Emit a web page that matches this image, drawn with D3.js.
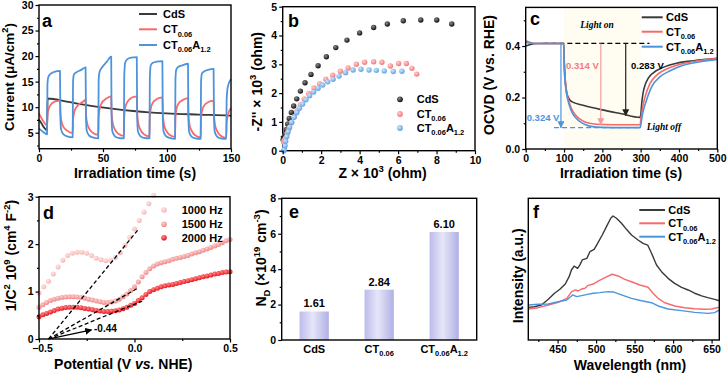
<!DOCTYPE html>
<html>
<head>
<meta charset="utf-8">
<script src="https://cdn.jsdelivr.net/npm/d3@7"></script>
<style>
body{margin:0;background:#fff;}
svg{display:block;font-family:"Liberation Sans",Arial,sans-serif;font-weight:bold;}
</style>
</head>
<body>
<svg id="fig" width="727" height="375"></svg>
<script>
// ---------- data ----------
const seriesNames = ['CdS', 'CT0.06', 'CT0.06A1.2'];
const lineColors = ['#3a3a3a', '#f76a6a', '#4d94dc'];

// a: photocurrent [time s, current uA/cm2]
const cdsA = [[0,7.6],[2,6.8],[4,6.0],[6.3,5.5],[6.7,11.7],[21.6,11.1],[35,10.5],[47.7,10.0],[60,9.6],[73.7,9.25],[86,9.0],[99.7,8.8],[125,8.55],[149,8.33],[150,8.3]];
const ctA = [
  [0,8.8],[2,7.8],[4,7.0],[6.3,6.4],[6.6,8.4],[7.5,9.6],[9,10.4],[11,10.9],[14,11.2],[16.4,11.3],
  [16.7,9.0],[17.5,7.3],[19,6.2],[22,5.4],[26.3,4.9],
  [26.6,7.6],[27.5,9.0],[29,9.9],[31,10.5],[34,11.0],[36.4,11.4],
  [36.7,8.8],[37.5,7.0],[39,5.9],[42,5.0],[46.3,4.6],
  [46.6,8.0],[47.5,9.8],[49,10.8],[51,11.4],[54,11.9],[56.4,12.1],
  [56.7,9.0],[57.5,7.0],[59,5.8],[62,4.8],[66.3,4.4],
  [66.6,8.2],[67.5,10.0],[69,11.0],[71,11.6],[74,12.0],[76.4,12.1],
  [76.7,9.0],[77.5,6.9],[79,5.7],[82,4.7],[86.3,4.3],
  [86.6,8.2],[87.5,9.9],[89,10.9],[91,11.4],[94,11.8],[96.4,11.9],
  [96.7,8.9],[97.5,6.8],[99,5.6],[102,4.6],[106.3,4.2],
  [106.6,8.0],[107.5,9.7],[109,10.7],[111,11.2],[114,11.6],[116.4,11.8],
  [116.7,8.8],[117.5,6.7],[119,5.5],[122,4.5],[126.3,4.1],
  [126.6,7.8],[127.5,9.4],[129,10.3],[131,10.8],[134,11.2],[136.4,11.3],
  [136.7,8.6],[137.5,6.6],[139,5.4],[142,4.4],[146.3,4.0],
  [146.6,7.0],[148,8.8],[150,9.8]
];
const ctaA = [
  [0,5.8],[3,5.2],[6.3,4.7],[6.6,14.5],[7.3,15.9],[9,16.5],[12,16.9],[16.4,17.1],
  [16.7,8],[17.3,5.6],[19,4.7],[22,4.3],[26.3,4.1],
  [26.6,15],[27.3,16.4],[29,16.8],[33,17.3],[36.4,17.8],
  [36.7,8],[37.3,5.4],[39,4.5],[42,4.1],[46.3,3.9],
  [46.6,15.2],[47.3,16.9],[49,17.7],[53,18.9],[56.4,19.9],
  [56.7,8],[57.3,5.3],[59,4.4],[62,4.0],[66.3,3.9],
  [66.6,16],[67.3,18.7],[69,19.4],[72,19.7],[76.4,19.8],
  [76.7,8],[77.3,5.3],[79,4.4],[82,4.0],[86.3,3.9],
  [86.6,15.8],[87.3,18.2],[89,18.7],[92,18.9],[96.4,19.0],
  [96.7,8],[97.3,5.3],[99,4.4],[102,4.0],[106.3,3.8],
  [106.6,15.5],[107.3,17.4],[109,17.9],[112,18.2],[116.4,18.5],
  [116.7,8],[117.3,5.2],[119,4.3],[122,3.9],[126.3,3.8],
  [126.6,15],[127.3,16.6],[129,17.0],[132,17.3],[136.4,17.5],
  [136.7,8],[137.3,5.2],[139,4.3],[142,3.9],[146.3,3.8],
  [146.6,11.5],[147.5,14],[150,15.5]
];

// b: Nyquist [Z' x1e3, -Z'' x1e3]
const cdsB = [[0.02,0.38],[0.06,0.47],[0.1,0.53],[0.14,0.60],[0.19,0.74],[0.26,0.93],[0.34,1.12],[0.45,1.33],[0.57,1.55],[0.73,1.80],[0.92,2.07],[1.16,2.36],[1.47,2.65],[1.84,2.95],[2.27,3.26],[2.76,3.58],[3.34,3.84],[4.00,4.09],[4.73,4.28],[5.44,4.40],[6.27,4.51],[7.18,4.54],[8.01,4.54],[8.79,4.40]];
const ctB = [[0.05,0.30],[0.1,0.37],[0.15,0.43],[0.24,0.60],[0.34,0.78],[0.46,0.97],[0.60,1.18],[0.75,1.39],[0.92,1.60],[1.12,1.80],[1.35,1.99],[1.63,2.18],[1.92,2.33],[2.24,2.48],[2.60,2.62],[3.00,2.76],[3.40,2.87],[3.83,3.00],[4.26,3.07],[4.73,3.09],[5.16,3.07],[5.60,2.94],[6.03,3.03],[6.43,3.03],[6.72,2.86],[6.97,2.66]];
const ctaB = [[0.06,0.0],[0.085,0.05],[0.12,0.17],[0.154,0.33],[0.21,0.49],[0.28,0.66],[0.36,0.82],[0.47,0.99],[0.59,1.16],[0.73,1.32],[0.87,1.47],[1.04,1.62],[1.21,1.77],[1.40,1.91],[1.61,2.04],[1.84,2.17],[2.08,2.28],[2.34,2.39],[2.62,2.48],[2.93,2.59],[3.27,2.71],[3.66,2.80],[4.07,2.83],[4.49,2.80],[4.87,2.79],[5.28,2.77],[5.75,2.75],[6.20,2.76]];

// c: OCVD [time s, V vs RHE]
const cdsC = [[0,0.400],[10,0.405],[30,0.41],[60,0.41],[99,0.41],[100,0.36],[101,0.33],[103,0.27],[107,0.22],[113,0.195],[120,0.184],[150,0.17],[200,0.152],[250,0.137],[298,0.123],[300,0.13],[303,0.18],[306,0.215],[309,0.236],[320,0.275],[333,0.296],[359,0.317],[394,0.333],[438,0.343],[500,0.352]];
const ctC = [[0,0.42],[10,0.415],[30,0.41],[60,0.41],[99,0.41],[100,0.36],[101,0.31],[103,0.27],[106,0.23],[110,0.2],[115,0.175],[120,0.155],[130,0.132],[140,0.118],[155,0.105],[170,0.099],[200,0.095],[250,0.094],[299,0.094],[300,0.11],[303,0.14],[307,0.175],[311.5,0.203],[324.5,0.255],[342,0.287],[368,0.311],[403,0.329],[446,0.342],[500,0.351]];
const ctaC = [[0,0.415],[10,0.412],[30,0.41],[60,0.41],[99,0.41],[100,0.35],[101,0.3],[103,0.26],[106,0.22],[110,0.19],[115,0.165],[120,0.145],[130,0.122],[140,0.108],[155,0.095],[170,0.088],[200,0.084],[250,0.083],[299,0.083],[300,0.09],[303,0.12],[308,0.155],[314,0.184],[329,0.242],[351,0.281],[377,0.304],[411,0.325],[455,0.339],[500,0.348]];
const ocvdDrops = [
  {t: 92, to: 0.083, label: '0.324 V'},
  {t: 196, to: 0.095, label: '0.314 V'},
  {t: 261, to: 0.13, label: '0.283 V'}
];

// d: Mott-Schottky
const freqs = ['1000 Hz', '1500 Hz', '2000 Hz'];
const pot1000 = [-0.5,-0.475,-0.45,-0.425,-0.4,-0.375,-0.35,-0.325,-0.3,-0.275,-0.25,-0.225,-0.2,-0.175,-0.15,-0.125,-0.1,-0.075,-0.05,-0.025,0,0.025,0.05,0.075,0.1];
const ms1000 = [0.97,1.10,1.22,1.37,1.52,1.66,1.76,1.81,1.83,1.83,1.81,1.76,1.70,1.67,1.65,1.66,1.72,1.82,1.97,2.14,2.32,2.50,2.67,2.85,3.03];
const pot1500 = d3.range(-0.5, 0.5001, 0.02);
const ms1500 = [0.67,0.72,0.77,0.81,0.84,0.86,0.875,0.885,0.89,0.89,0.885,0.875,0.86,0.84,0.82,0.80,0.785,0.77,0.77,0.78,0.80,0.84,0.89,0.95,1.02,1.10,1.20,1.31,1.40,1.48,1.54,1.58,1.61,1.63,1.65,1.68,1.70,1.72,1.74,1.76,1.79,1.82,1.84,1.87,1.90,1.93,1.96,1.99,2.03,2.07,2.10];
const pot2000 = d3.range(-0.5, 0.5001, 0.02);
const ms2000 = [0.47,0.51,0.54,0.57,0.60,0.63,0.65,0.665,0.67,0.67,0.67,0.66,0.645,0.63,0.615,0.60,0.59,0.58,0.58,0.585,0.595,0.61,0.64,0.67,0.71,0.75,0.81,0.87,0.94,1.00,1.04,1.07,1.10,1.12,1.14,1.15,1.17,1.19,1.21,1.23,1.25,1.27,1.29,1.31,1.33,1.35,1.37,1.38,1.40,1.41,1.42];
const fitLines = [[[-0.45,0],[0.024,2.33]],[[-0.45,0],[0.012,1.06]],[[-0.45,0],[0.04,0.80]]];
const flatBand = -0.44;

// e: donor density
const ndValues = [1.61, 2.84, 6.10];

// f: PL [wavelength nm, intensity a.u.]
const cdsF = [[412,0.23],[420,0.235],[429,0.247],[438,0.287],[446,0.33],[453,0.358],[460,0.395],[465,0.447],[468,0.494],[471.5,0.522],[476,0.506],[479,0.53],[482,0.565],[488,0.576],[492,0.623],[497.5,0.64],[502,0.682],[508,0.741],[513.5,0.8],[519,0.859],[522,0.875],[526.5,0.859],[533,0.824],[539.5,0.781],[546,0.741],[554.5,0.706],[561,0.682],[567,0.67],[572,0.612],[578.5,0.529],[585,0.482],[593.5,0.435],[602,0.4],[611,0.372],[619.5,0.353],[628,0.33],[637,0.311],[645,0.299],[654,0.287],[660,0.277]];
const ctF = [[412,0.219],[425,0.228],[438,0.247],[451,0.266],[462,0.294],[468.3,0.341],[473.4,0.353],[476.8,0.346],[481.2,0.36],[485.5,0.365],[489.8,0.386],[496.3,0.395],[502.7,0.416],[511.4,0.44],[520.9,0.464],[528.7,0.452],[537.3,0.428],[546,0.411],[557,0.388],[567.5,0.372],[574,0.33],[580.5,0.294],[589.2,0.263],[602.2,0.24],[615.1,0.228],[628.1,0.221],[641,0.217],[649.7,0.219],[660,0.231]];
const ctaF = [[412,0.247],[425,0.252],[438,0.254],[451,0.27],[461.8,0.282],[469.6,0.318],[474.8,0.306],[481.2,0.313],[488.9,0.322],[496.3,0.33],[505,0.334],[515.7,0.341],[522.2,0.339],[533,0.318],[546,0.294],[559,0.277],[572,0.263],[580.5,0.24],[593.5,0.219],[610.8,0.207],[628,0.195],[645.3,0.188],[654,0.193],[660,0.212]];

// ---------- helpers ----------
const svg = d3.select('#fig');
const defs = svg.append('defs');
const fam = '"Liberation Sans", Arial, sans-serif';

function rich(sel, parts, size){
  let shift = 0;
  parts.forEach(p => {
    const kind = p[1];
    const target = kind === 'sub' ? size*0.3 : kind === 'sup' ? -size*0.42 : 0;
    const t = sel.append('tspan').text(p[0]);
    if(target - shift !== 0) t.attr('dy', target - shift);
    if(kind === 'sub' || kind === 'sup') t.attr('font-size', size*0.68);
    if(kind === 'it') t.attr('font-style', 'italic');
    shift = target;
  });
  return sel;
}
const ctLabel = [['CT'],['0.06','sub']];
const ctaLabel = [['CT'],['0.06','sub'],['A'],['1.2','sub']];
const legendParts = [[['CdS']], ctLabel, ctaLabel];

function panel(box, xdom, ydom){
  return {
    box,
    x: d3.scaleLinear().domain(xdom).range([box.x0, box.x1]),
    y: d3.scaleLinear().domain(ydom).range([box.y1, box.y0])
  };
}

function styleAxis(g){
  g.attr('font-size', 10.5).attr('font-family', fam).attr('font-weight', 'bold');
  g.select('.domain').remove();
  g.selectAll('line').attr('stroke', '#000').attr('stroke-width', 1.2);
  g.selectAll('text').attr('fill', '#000');
}

function axes(p, cfg){
  const b = p.box;
  if(cfg.xt){
    svg.append('g').attr('transform', `translate(0,${b.y1})`)
      .call(d3.axisBottom(p.x).tickValues(cfg.xt).tickSize(3.5).tickPadding(2).tickFormat(cfg.xf || (d => d)))
      .call(styleAxis)
      .selectAll('text').attr('dx', d => d < 0 ? 3 : 0);
  }
  if(cfg.xm){
    svg.append('g').attr('transform', `translate(0,${b.y1})`)
      .call(d3.axisBottom(p.x).tickValues(cfg.xm).tickSize(2).tickFormat(''))
      .call(styleAxis);
  }
  if(cfg.yt){
    svg.append('g').attr('transform', `translate(${b.x0},0)`)
      .call(d3.axisLeft(p.y).tickValues(cfg.yt).tickSize(3.5).tickPadding(2).tickFormat(cfg.yf || (d => d)))
      .call(styleAxis);
  }
  if(cfg.ym){
    svg.append('g').attr('transform', `translate(${b.x0},0)`)
      .call(d3.axisLeft(p.y).tickValues(cfg.ym).tickSize(2).tickFormat(''))
      .call(styleAxis);
  }
}

function frame(b){
  svg.append('rect').attr('x', b.x0).attr('y', b.y0)
    .attr('width', b.x1 - b.x0).attr('height', b.y1 - b.y0)
    .attr('fill', 'none').attr('stroke', '#000').attr('stroke-width', 1.4);
}

function titles(cfg){
  const fs = cfg.fs || 14;
  if(cfg.x){
    rich(svg.append('text').attr('x', cfg.x[0]).attr('y', cfg.x[1]).attr('text-anchor', 'middle').attr('font-size', 14), cfg.x[2], 14);
  }
  if(cfg.y){
    rich(svg.append('text').attr('transform', `translate(${cfg.y[0]},${cfg.y[1]}) rotate(-90)`).attr('text-anchor', 'middle').attr('font-size', fs), cfg.y[2], fs);
  }
  svg.append('text').attr('x', cfg.tag[0]).attr('y', cfg.tag[1]).attr('font-size', 18).text(cfg.tag[2]);
}

function lineLegend(x0, x1, ys, colors, tx){
  ys.forEach((yy, i) => {
    svg.append('line').attr('x1', x0).attr('x2', x1).attr('y1', yy).attr('y2', yy)
      .attr('stroke', colors[i]).attr('stroke-width', 2);
    rich(svg.append('text').attr('x', tx).attr('y', yy + 4).attr('font-size', 11), legendParts[i], 11);
  });
}

function ballGradient(id, base, hi){
  const g = defs.append('radialGradient').attr('id', id).attr('cx', '38%').attr('cy', '35%').attr('r', '65%');
  g.append('stop').attr('offset', '0%').attr('stop-color', hi);
  g.append('stop').attr('offset', '100%').attr('stop-color', base);
}

function arrowMarker(id, color){
  defs.append('marker').attr('id', id).attr('viewBox', '0 0 10 10').attr('refX', 9).attr('refY', 5)
    .attr('markerWidth', 7).attr('markerHeight', 7).attr('markerUnits', 'userSpaceOnUse').attr('orient', 'auto')
    .append('path').attr('d', 'M0,0 L10,5 L0,10 z').attr('fill', color);
}

// ---------- panel a ----------
{
  const p = panel({x0: 39, x1: 231, y0: 5, y1: 148.7}, [0, 150], [1.87, 30]);
  const line = d3.line().x(d => p.x(d[0])).y(d => p.y(d[1])).curve(d3.curveMonotoneX);
  [cdsA, ctA, ctaA].forEach((s, i) => {
    svg.append('path').datum(s).attr('d', line).attr('fill', 'none')
      .attr('stroke', lineColors[i]).attr('stroke-width', 1.8).attr('stroke-linejoin', 'round');
  });
  frame(p.box);
  axes(p, {xt: [0, 50, 100, 150], xm: [25, 75, 125], yt: [5, 10, 15, 20, 25, 30], ym: [2.5, 7.5, 12.5, 17.5, 22.5, 27.5]});
  lineLegend(139, 157, [14, 29.3, 45], lineColors, 163);
  titles({fs: 13.5, x: [135, 178, [['Irradiation time (s)']]], y: [14, 77, [['Current (μA/cm'], ['2', 'sup'], [')']]], tag: [42, 27, 'a']});
}

// ---------- panel b ----------
{
  const p = panel({x0: 282.7, x1: 475, y0: 6.7, y1: 150.7}, [0, 10], [0, 5]);
  const ballCols = [['#111111', '#8a8a8a'], ['#f47676', '#ffd0d0'], ['#5ea3e6', '#cfe5fa']];
  ballCols.forEach((c, i) => ballGradient('ballB' + i, c[0], c[1]));
  frame(p.box);
  [cdsB, ctB, ctaB].forEach((s, i) => {
    svg.append('g').selectAll('circle').data(s).join('circle')
      .attr('cx', d => p.x(d[0])).attr('cy', d => p.y(d[1])).attr('r', 2.7)
      .attr('fill', `url(#ballB${i})`);
  });
  axes(p, {xt: [0, 2, 4, 6, 8, 10], xm: [1, 3, 5, 7, 9], yt: [0, 1, 2, 3, 4, 5], ym: [0.5, 1.5, 2.5, 3.5, 4.5]});
  [99.3, 114, 128].forEach((yy, i) => {
    svg.append('circle').attr('cx', 400).attr('cy', yy).attr('r', 2.9).attr('fill', `url(#ballB${i})`);
    rich(svg.append('text').attr('x', 416.7).attr('y', yy + 4).attr('font-size', 11), legendParts[i], 11);
  });
  titles({x: [382.5, 178, [['Z × 10'], ['3', 'sup'], [' (ohm)']]], y: [262, 81.7, [['-Z\'\' × 10'], ['3', 'sup'], [' (ohm)']]], tag: [288, 27, 'b']});
}

// ---------- panel c ----------
{
  const p = panel({x0: 525.7, x1: 717.3, y0: 7.4, y1: 149}, [0, 500], [0, 0.55]);
  svg.append('rect').attr('x', p.x(100)).attr('y', p.box.y0).attr('width', p.x(300) - p.x(100))
    .attr('height', p.box.y1 - p.box.y0).attr('fill', '#fffdf2');
  const line = d3.line().x(d => p.x(d[0])).y(d => p.y(d[1])).curve(d3.curveMonotoneX);
  const dropCols = ['#4d94dc', '#f79a9a', '#222222'];
  dropCols.forEach((c, i) => arrowMarker('arrC' + i, c));
  // dashed guides
  svg.append('line').attr('x1', p.x(46)).attr('x2', p.x(323)).attr('y1', p.y(0.41)).attr('y2', p.y(0.41))
    .attr('stroke', '#000').attr('stroke-width', 1.3).attr('stroke-dasharray', '5,3');
  svg.append('line').attr('x1', p.x(74)).attr('x2', p.x(300)).attr('y1', p.y(0.083)).attr('y2', p.y(0.083))
    .attr('stroke', '#4d94dc').attr('stroke-width', 1.3).attr('stroke-dasharray', '5,3');
  [cdsC, ctC, ctaC].forEach((s, i) => {
    svg.append('path').datum(s).attr('d', line).attr('fill', 'none')
      .attr('stroke', lineColors[i]).attr('stroke-width', 1.6);
  });
  ocvdDrops.forEach((d, i) => {
    svg.append('line').attr('x1', p.x(d.t)).attr('x2', p.x(d.t)).attr('y1', p.y(0.41)).attr('y2', p.y(d.to))
      .attr('stroke', dropCols[i]).attr('stroke-width', 1.2).attr('marker-end', `url(#arrC${i})`);
  });
  svg.append('text').attr('x', 526.7).attr('y', 121).attr('font-size', 9.5).attr('fill', '#4d94dc').text(ocvdDrops[0].label);
  svg.append('text').attr('x', 566).attr('y', 69).attr('font-size', 9.5).attr('fill', '#f47a7a').text(ocvdDrops[1].label);
  svg.append('text').attr('x', 631).attr('y', 69).attr('font-size', 9.5).attr('fill', '#000').text(ocvdDrops[2].label);
  svg.append('text').attr('x', 597).attr('y', 28).attr('text-anchor', 'middle').attr('font-size', 9.5)
    .attr('font-family', '"Liberation Serif", serif').attr('font-style', 'italic').text('Light on');
  svg.append('text').attr('x', 664).attr('y', 130).attr('text-anchor', 'middle').attr('font-size', 9.5)
    .attr('font-family', '"Liberation Serif", serif').attr('font-style', 'italic').text('Light off');
  frame(p.box);
  axes(p, {xt: [0, 100, 200, 300, 400, 500], xm: [50, 150, 250, 350, 450], yt: [0, 0.2, 0.4], ym: [0.1, 0.3, 0.5], yf: d3.format('.1f')});
  lineLegend(641.7, 662.7, [17.3, 31.7, 46.7], lineColors, 666);
  titles({x: [621, 178, [['Irradiation time (s)']]], y: [494, 75, [['OCVD (V vs. RHE)']]], tag: [530, 25, 'c']});
}

// ---------- panel d ----------
{
  const p = panel({x0: 39, x1: 230, y0: 196.7, y1: 339}, [-0.5, 0.5], [0, 3]);
  const ballCols = [['#f8b4b4', '#fde6e6'], ['#f08585', '#fcd0d0'], ['#e8141c', '#ff8a8a']];
  ballCols.forEach((c, i) => ballGradient('ballD' + i, c[0], c[1]));
  arrowMarker('arrD', '#000');
  const sets = [[pot1000, ms1000], [pot1500, ms1500], [pot2000, ms2000]];
  sets.forEach((s, i) => {
    const pts = s[0].map((v, j) => [v, s[1][j]]).filter(d => d[1] <= 3.05);
    svg.append('g').selectAll('circle').data(pts).join('circle')
      .attr('cx', d => p.x(d[0])).attr('cy', d => p.y(d[1])).attr('r', 2.5)
      .attr('fill', `url(#ballD${i})`);
  });
  fitLines.forEach(l => {
    svg.append('line').attr('x1', p.x(l[0][0])).attr('y1', p.y(l[0][1])).attr('x2', p.x(l[1][0])).attr('y2', p.y(l[1][1]))
      .attr('stroke', '#000').attr('stroke-width', 1.3).attr('stroke-dasharray', '4,2.5');
  });
  svg.append('line').attr('x1', p.x(flatBand)).attr('y1', p.y(0.01)).attr('x2', p.x(-0.225)).attr('y2', p.y(0.19))
    .attr('stroke', '#000').attr('stroke-width', 1.3).attr('marker-end', 'url(#arrD)');
  svg.append('text').attr('x', 94).attr('y', 332).attr('font-size', 10).text(flatBand.toFixed(2));
  frame(p.box);
  axes(p, {xt: [-0.5, 0, 0.5], xm: [-0.25, 0.25], xf: d3.format('.1f'), yt: [0, 1, 2, 3], ym: [0.5, 1.5, 2.5]});
  [210, 224.3, 237.7].forEach((yy, i) => {
    svg.append('circle').attr('cx', 164).attr('cy', yy).attr('r', 2.8).attr('fill', `url(#ballD${i})`);
    svg.append('text').attr('x', 181.7).attr('y', yy + 4).attr('font-size', 11).text(freqs[i]);
  });
  titles({x: [123.3, 369, [['Potential (V '], ['vs.', 'it'], [' NHE)']]],
          y: [16, 255.5, [['1/C'], ['2', 'sup'], [' 10'], ['9', 'sup'], [' (cm'], ['4', 'sup'], [' F'], ['-2', 'sup'], [')']]],
          tag: [43, 219, 'd']});
}

// ---------- panel e ----------
{
  const box = {x0: 281.7, x1: 476.7, y0: 198.3, y1: 340};
  const x = d3.scaleBand().domain(seriesNames).range([box.x0, box.x1]).paddingInner(0.55).paddingOuter(0.275);
  const y = d3.scaleLinear().domain([0, 8]).range([box.y1, box.y0]);
  const g = defs.append('linearGradient').attr('id', 'barE').attr('x1', '0%').attr('x2', '100%');
  g.append('stop').attr('offset', '0%').attr('stop-color', '#bcbcec');
  g.append('stop').attr('offset', '45%').attr('stop-color', '#e6e6f9');
  g.append('stop').attr('offset', '100%').attr('stop-color', '#b0b0e4');
  svg.append('g').selectAll('rect').data(ndValues).join('rect')
    .attr('x', (d, i) => x(seriesNames[i])).attr('width', x.bandwidth())
    .attr('y', d => y(d)).attr('height', d => y(0) - y(d)).attr('fill', 'url(#barE)');
  svg.append('g').selectAll('text').data(ndValues).join('text')
    .attr('x', (d, i) => x(seriesNames[i]) + x.bandwidth() / 2).attr('y', d => y(d) - 4)
    .attr('text-anchor', 'middle').attr('font-size', 11).text(d => d.toFixed(2));
  frame(box);
  axes({x: d3.scaleLinear(), y, box}, {yt: [0, 2, 4, 6, 8], ym: [1, 3, 5, 7]});
  seriesNames.forEach((n, i) => {
    rich(svg.append('text').attr('x', x(n) + x.bandwidth() / 2).attr('y', 353).attr('text-anchor', 'middle').attr('font-size', 11), legendParts[i], 11);
  });
  titles({y: [266, 258, [['N'], ['D', 'sub'], [' (×10'], ['19', 'sup'], [' cm'], ['-3', 'sup'], [')']]], tag: [289, 218, 'e']});
}

// ---------- panel f ----------
{
  const p = panel({x0: 528.3, x1: 719.3, y0: 198.3, y1: 340}, [412, 660], [0, 1]);
  const line = d3.line().x(d => p.x(d[0])).y(d => p.y(d[1])).curve(d3.curveLinear);
  [cdsF, ctF, ctaF].forEach((s, i) => {
    svg.append('path').datum(s).attr('d', line).attr('fill', 'none')
      .attr('stroke', lineColors[i]).attr('stroke-width', 1.4).attr('stroke-linejoin', 'round');
  });
  frame(p.box);
  axes(p, {xt: [450, 500, 550, 600, 650], xm: [425, 475, 525, 575, 625]});
  lineLegend(639.3, 665, [210, 223.3, 236.7], lineColors, 668.3);
  titles({x: [630, 370, [['Wavelength (nm)']]], y: [523, 275.8, [['Intensity (a.u.)']]], tag: [533, 218, 'f']});
}
</script>
</body>
</html>
